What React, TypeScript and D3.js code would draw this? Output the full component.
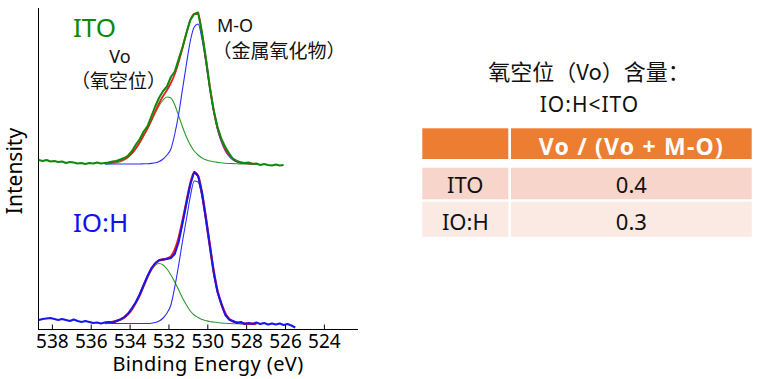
import React from "react";
import * as d3 from "d3";

// Binding energy grid of the measured spectra (eV)
const ENERGY = [538.7,538.5,538.3,538.1,537.9,537.7,537.5,537.3,537.1,536.9,536.7,536.5,536.3,536.1,535.9,535.7,535.5,535.3,535.1,534.9,534.7,534.5,534.3,534.1,533.9,533.7,533.5,533.3,533.1,532.9,532.7,532.5,532.3,532.1,531.9,531.7,531.5,531.3,531.1,530.9,530.7,530.5,530.3,530.1,529.9,529.7,529.5,529.3,529.1,528.9,528.7,528.5,528.3,528.1,527.9,527.7,527.5,527.3,527.1,526.9,526.7,526.5,526.3,526.1,525.9,525.7,525.5];

// ITO measured intensity (offset, a.u.)
const ITO_DATA = [169,168,169,167.5,168,167,167.5,166,167,166.5,165.5,166,165,166,165.5,166.5,165.5,166,166.5,167.5,168,169.5,171,173.5,178,184.5,190,197.5,203,213,223,231.5,238,242.5,252,257.5,270,282,296,309,315,316.5,296,271,242,219,202,190,182,175.5,170,168,166.5,166,166.5,165,165.5,164,165,164,163.5,164.5,163.5,164];

// IO:H measured intensity (a.u.)
const IOH_DATA = [9,10,10.5,11,10,9,10,9,8,9.5,8,7,8,7,6,6.5,5.5,6.5,7,6.5,8,9.5,12,15.5,21,27,35,44,53,61,66,69,69.5,70,71,75,87,106,126,145,157,153,136,111,84,57,37,25,14,9.5,8,6,7,5,6,5,6.5,5,6,4.5,5.5,4.5,5.5,4,5,3.5,1.5];

// Energy grid of the fitted curves (eV)
const FIT_ENERGY = [535.3,535.1,534.9,534.7,534.5,534.3,534.1,533.9,533.7,533.5,533.3,533.1,532.9,532.7,532.5,532.3,532.1,531.9,531.7,531.5,531.3,531.1,530.9,530.7,530.5,530.3,530.1,529.9,529.7,529.5,529.3,529.1,528.9,528.7,528.5,528.3,528.1,527.9,527.7,527.5];

const ITO_FIT = [166,166.3,166.8,167.5,168.5,170,172.5,176,181,187,194,201,209,218,226,233,239,246,255,267,281,296,309,315,315,296,270,243,219,201,189,180,174,170,167.5,166.5,166,165.5,165.3,165];
const ITO_VO = [165,165.3,165.7,166.3,167.3,169,171.5,175,180,186,193,200,208,216,223.5,229,232,231,224,213,202,192,184,178,174,171,169.3,168,167.2,166.6,166.2,165.8,165.5,165.4,165.2,165.1,165,165,165,165];
const ITO_MO = [165,165,165,165,165,165,165,165,165,165,165.2,165.3,165.6,166.2,167.5,170,174,180,195,215,240,265,288,302,305,290,266,240,217,199,187,178,172.5,169,167,166,165.5,165.2,165,165];

const IOH_FIT = [6,6.5,7,8,9.5,11.5,15,20,26.5,34,43.5,52.5,60,65.5,68.5,69.5,70.5,72.5,79,91,108,127,145,156.5,153,136,111,84,58,38,25,15.5,10,7.5,6.5,6,5.5,5.3,5.2,5];
const IOH_VO = [5.5,6,6.5,7.5,9,11,14.5,19.5,26,33.5,43,52,59,64,65.5,64,60,54,47,39,31,24,18,14,11.5,9.5,8.5,7.5,7,6.5,6,5.7,5.5,5.3,5.2,5.1,5,5,5,5];
const IOH_MO = [5.5,5.5,5.5,5.5,5.5,5.5,5.5,5.5,5.5,5.5,5.5,5.5,5.8,6.5,8,11,16,24,42,64,88,110,132.5,148,147,132,108,82,56.5,37,24.5,15.3,10,7.3,6.3,5.8,5.5,5.5,5.5,5.5];

const X_TICKS = [538, 536, 534, 532, 530, 528, 526, 524];

const SAMPLES = ["ITO", "IO:H"];
const VO_RATIO = [0.4, 0.3];
const TABLE_HEADER = "Vo / (Vo + M-O)";

const LATIN = "'Noto Sans', 'Open Sans', sans-serif";
const CJK = "'Noto Sans CJK SC', 'Noto Sans CJK JP', sans-serif";

export default function App() {
  const x = d3.scaleLinear().domain([538.74, 522.27]).range([38, 358]);
  const y = d3.scaleLinear().domain([0, 321]).range([329, 8]);

  const path = (xs: number[], ys: number[], curve: d3.CurveFactory) =>
    d3
      .line<number>()
      .x((_, i) => x(xs[i]))
      .y((d) => y(d))
      .curve(curve)(ys) || "";

  const smooth = d3.curveMonotoneX;
  const raw = d3.curveLinear;

  const dataGreen = "#0c8a0c";
  const compGreen = "#2a9a2a";
  const dataBlue = "#1616ee";
  const compBlue = "#2c2cff";
  const red = "#f01c1c";

  // table layout
  const colX = [422.3, 511];
  const colW = [86, 240.7];
  const headerY = 128.3;
  const headerH = 30.7;
  const rowY = [167.7, 201.7];
  const rowH = [31.6, 35];
  const rowFill = ["#f7d5ca", "#fbe9e3"];
  const fmt = d3.format(".1f");

  return (
    <svg
      width={767}
      height={379}
      style={{ position: "absolute", left: 0, top: 0, display: "block", background: "#fff" }}
    >
      {/* axes */}
      <line x1={38.5} y1={8} x2={38.5} y2={329.5} stroke="#000" strokeWidth={1} />
      <line x1={38} y1={329.5} x2={358} y2={329.5} stroke="#000" strokeWidth={1} />
      {X_TICKS.map((t) => (
        <g key={t}>
          <line x1={x(t)} x2={x(t)} y1={329.5} y2={324.5} stroke="#000" strokeWidth={1} />
          <text
            x={x(t)}
            y={348}
            textAnchor="middle"
            fontFamily={LATIN}
            fontSize={19}
            fill="#000"
          >
            {t}
          </text>
        </g>
      ))}
      <text
        x={208}
        y={371}
        textAnchor="middle"
        fontFamily={LATIN}
        fontSize={20}
        letterSpacing={0.4}
        fill="#000"
      >
        Binding Energy (eV)
      </text>
      <text
        transform="translate(22,171) rotate(-90)"
        textAnchor="middle"
        fontFamily={LATIN}
        fontSize={21}
        fill="#000"
      >
        Intensity
      </text>

      {/* ITO components and fit */}
      <path d={path(FIT_ENERGY, ITO_VO, smooth)} fill="none" stroke={compGreen} strokeWidth={1.1} />
      <path d={path(FIT_ENERGY, ITO_MO, smooth)} fill="none" stroke={compBlue} strokeWidth={1.1} />
      <path d={path(FIT_ENERGY, ITO_FIT, smooth)} fill="none" stroke={red} strokeWidth={1.8} />
      <path
        d={path(ENERGY.slice(0, ITO_DATA.length), ITO_DATA, raw)}
        fill="none"
        stroke={dataGreen}
        strokeWidth={2}
        strokeLinejoin="round"
      />

      {/* IO:H components and fit */}
      <path d={path(FIT_ENERGY, IOH_VO, smooth)} fill="none" stroke={compGreen} strokeWidth={1.1} />
      <path d={path(FIT_ENERGY, IOH_MO, smooth)} fill="none" stroke={compBlue} strokeWidth={1.1} />
      <path d={path(FIT_ENERGY, IOH_FIT, smooth)} fill="none" stroke={red} strokeWidth={2.4} />
      <path
        d={path(ENERGY.slice(0, IOH_DATA.length), IOH_DATA, raw)}
        fill="none"
        stroke={dataBlue}
        strokeWidth={2}
        strokeLinejoin="round"
      />

      {/* labels in plot */}
      <text x={73} y={37} fontFamily={LATIN} fontSize={26} fill="#078a07">
        ITO
      </text>
      <text x={73} y={232} fontFamily={LATIN} fontSize={26} fill="#1010f0">
        IO:H
      </text>
      <text x={120} y={63} textAnchor="middle" fontFamily={LATIN} fontSize={18} fill="#111">
        Vo
      </text>
      <text x={118.5} y={88} textAnchor="middle" fontFamily={CJK} fontSize={19} fill="#111">
        （氧空位）
      </text>
      <text x={217} y={32} fontFamily={LATIN} fontSize={18} fill="#111">
        M-O
      </text>
      <text x={279} y={58} textAnchor="middle" fontFamily={CJK} fontSize={19} fill="#111">
        （金属氧化物）
      </text>

      {/* right side title */}
      <text x={589} y={80} textAnchor="middle" fontFamily={CJK} fontSize={22} fill="#111">
        氧空位（Vo）含量：
      </text>
      <text
        x={589.5}
        y={111.5}
        textAnchor="middle"
        fontFamily={LATIN}
        fontSize={21}
        letterSpacing={1}
        fill="#111"
      >
        IO:H&lt;ITO
      </text>

      {/* table */}
      <rect x={colX[0]} y={headerY} width={colW[0]} height={headerH} fill="#ed7d31" />
      <rect x={colX[1]} y={headerY} width={colW[1]} height={headerH} fill="#ed7d31" />
      <text
        x={colX[1] + colW[1] / 2}
        y={155}
        textAnchor="middle"
        fontFamily={LATIN}
        fontWeight="bold"
        fontSize={23}
        letterSpacing={1.2}
        fill="#fff"
      >
        {TABLE_HEADER}
      </text>
      {SAMPLES.map((s, i) => (
        <g key={s}>
          <rect x={colX[0]} y={rowY[i]} width={colW[0]} height={rowH[i]} fill={rowFill[i]} />
          <rect x={colX[1]} y={rowY[i]} width={colW[1]} height={rowH[i]} fill={rowFill[i]} />
          <text
            x={colX[0] + colW[0] / 2}
            y={i === 0 ? 192.7 : 230}
            textAnchor="middle"
            fontFamily={LATIN}
            fontSize={22}
            fill="#111"
          >
            {s}
          </text>
          <text
            x={colX[1] + colW[1] / 2}
            y={i === 0 ? 192.7 : 230}
            textAnchor="middle"
            fontFamily={LATIN}
            fontSize={22}
            fill="#111"
          >
            {fmt(VO_RATIO[i])}
          </text>
        </g>
      ))}
    </svg>
  );
}
